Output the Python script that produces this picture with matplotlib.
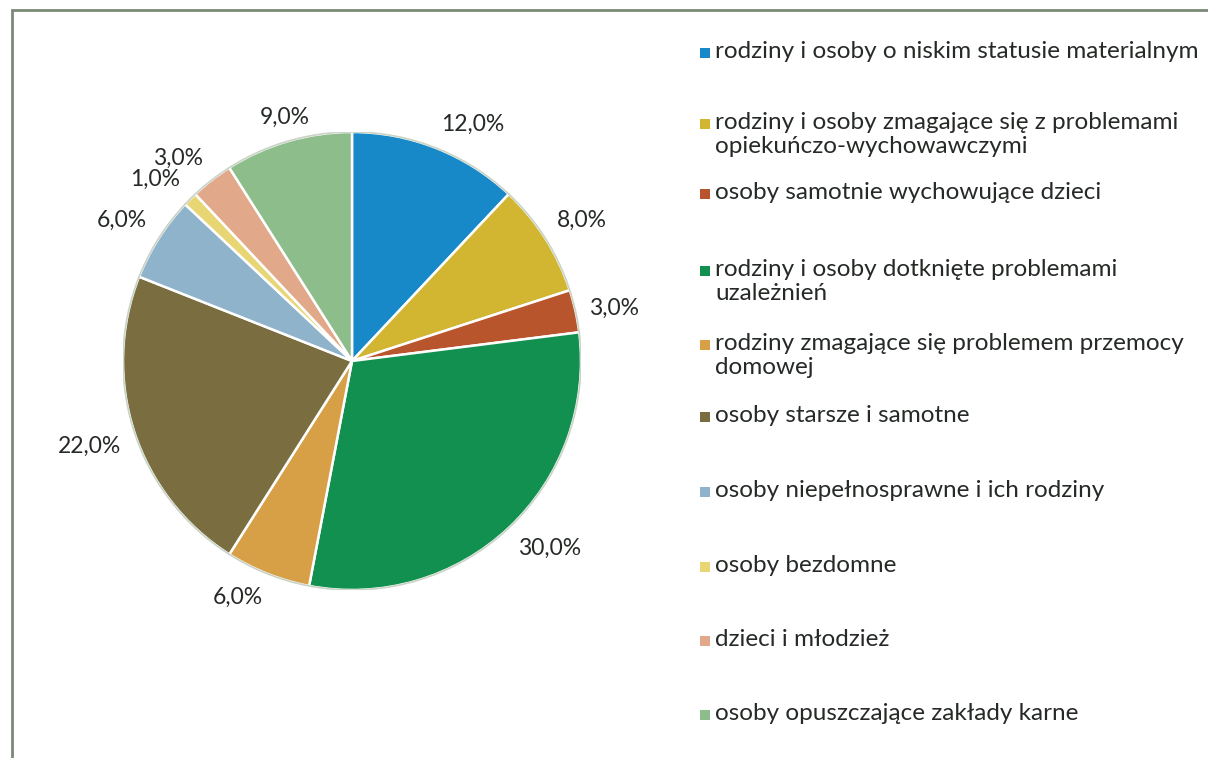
import matplotlib
matplotlib.use("Agg")
import matplotlib.pyplot as plt
import numpy as np
from matplotlib.patches import Rectangle

# dane
categories = [
    "rodziny i osoby o niskim statusie materialnym",
    "rodziny i osoby zmagające się z problemami\nopiekuńczo-wychowawczymi",
    "osoby samotnie wychowujące dzieci",
    "rodziny i osoby dotknięte problemami\nuzależnień",
    "rodziny zmagające się problemem przemocy\ndomowej",
    "osoby starsze i samotne",
    "osoby niepełnosprawne i ich rodziny",
    "osoby bezdomne",
    "dzieci i młodzież",
    "osoby opuszczające zakłady karne",
]
values = [12.0, 8.0, 3.0, 30.0, 6.0, 22.0, 6.0, 1.0, 3.0, 9.0]
colors = ["#1788C8", "#D2B530", "#B9552C", "#12904F", "#D7A046",
          "#7A6D40", "#90B3CC", "#E8D574", "#E2A88A", "#8DBD8A"]

plt.rcParams['font.family'] = ['Lato', 'DejaVu Sans']
txt_color = "#262a26"

W, H = 1208, 758
fig = plt.figure(figsize=(W / 100, H / 100), dpi=100)
fig.patch.set_facecolor("white")

# ramka
fig.patches.append(Rectangle((12 / W, -0.05), 1.1, (H - 10) / H + 0.05,
                             transform=fig.transFigure, fill=False,
                             edgecolor="#7b8a78", linewidth=2))

# wykres kołowy
cx, cy, r = 352, 361, 229
ax = fig.add_axes([(cx - r) / W, (H - cy - r) / H, 2 * r / W, 2 * r / H])
wedges, _ = ax.pie(values, colors=colors, startangle=90, counterclock=False,
                   wedgeprops=dict(edgecolor="white", linewidth=1.8))
circle = plt.Circle((0, 0), 1.0, fill=False, edgecolor="#c9d3c6", linewidth=1.2)
ax.add_patch(circle)
ax.set_xlim(-1, 1)
ax.set_ylim(-1, 1)
ax.set_aspect("equal")
ax.axis("off")

for w, v in zip(wedges, values):
    ang = np.deg2rad((w.theta1 + w.theta2) / 2)
    c, s = np.cos(ang), np.sin(ang)
    ha = "left" if c > 0.3 else ("right" if c < -0.3 else "center")
    va = "bottom" if s > 0.3 else ("top" if s < -0.3 else "center")
    ax.text(1.06 * c, 1.06 * s, f"{v:.1f}%".replace(".", ","), ha=ha, va=va,
            fontsize=16.5, color=txt_color)

# legenda
row_y = [52, 123, 193, 270, 344, 416, 491, 566, 640, 714]
for lab, col, y in zip(categories, colors, row_y):
    fig.patches.append(Rectangle((700 / W, (H - y - 6) / H), 10 / W, 10 / H,
                                 transform=fig.transFigure, facecolor=col,
                                 edgecolor="none"))
    fig.text(715 / W, (H - y + 11) / H, lab, ha="left", va="top",
             fontsize=17.5, color=txt_color, linespacing=1.15)

fig.savefig("out.png", dpi=100, facecolor="white")
